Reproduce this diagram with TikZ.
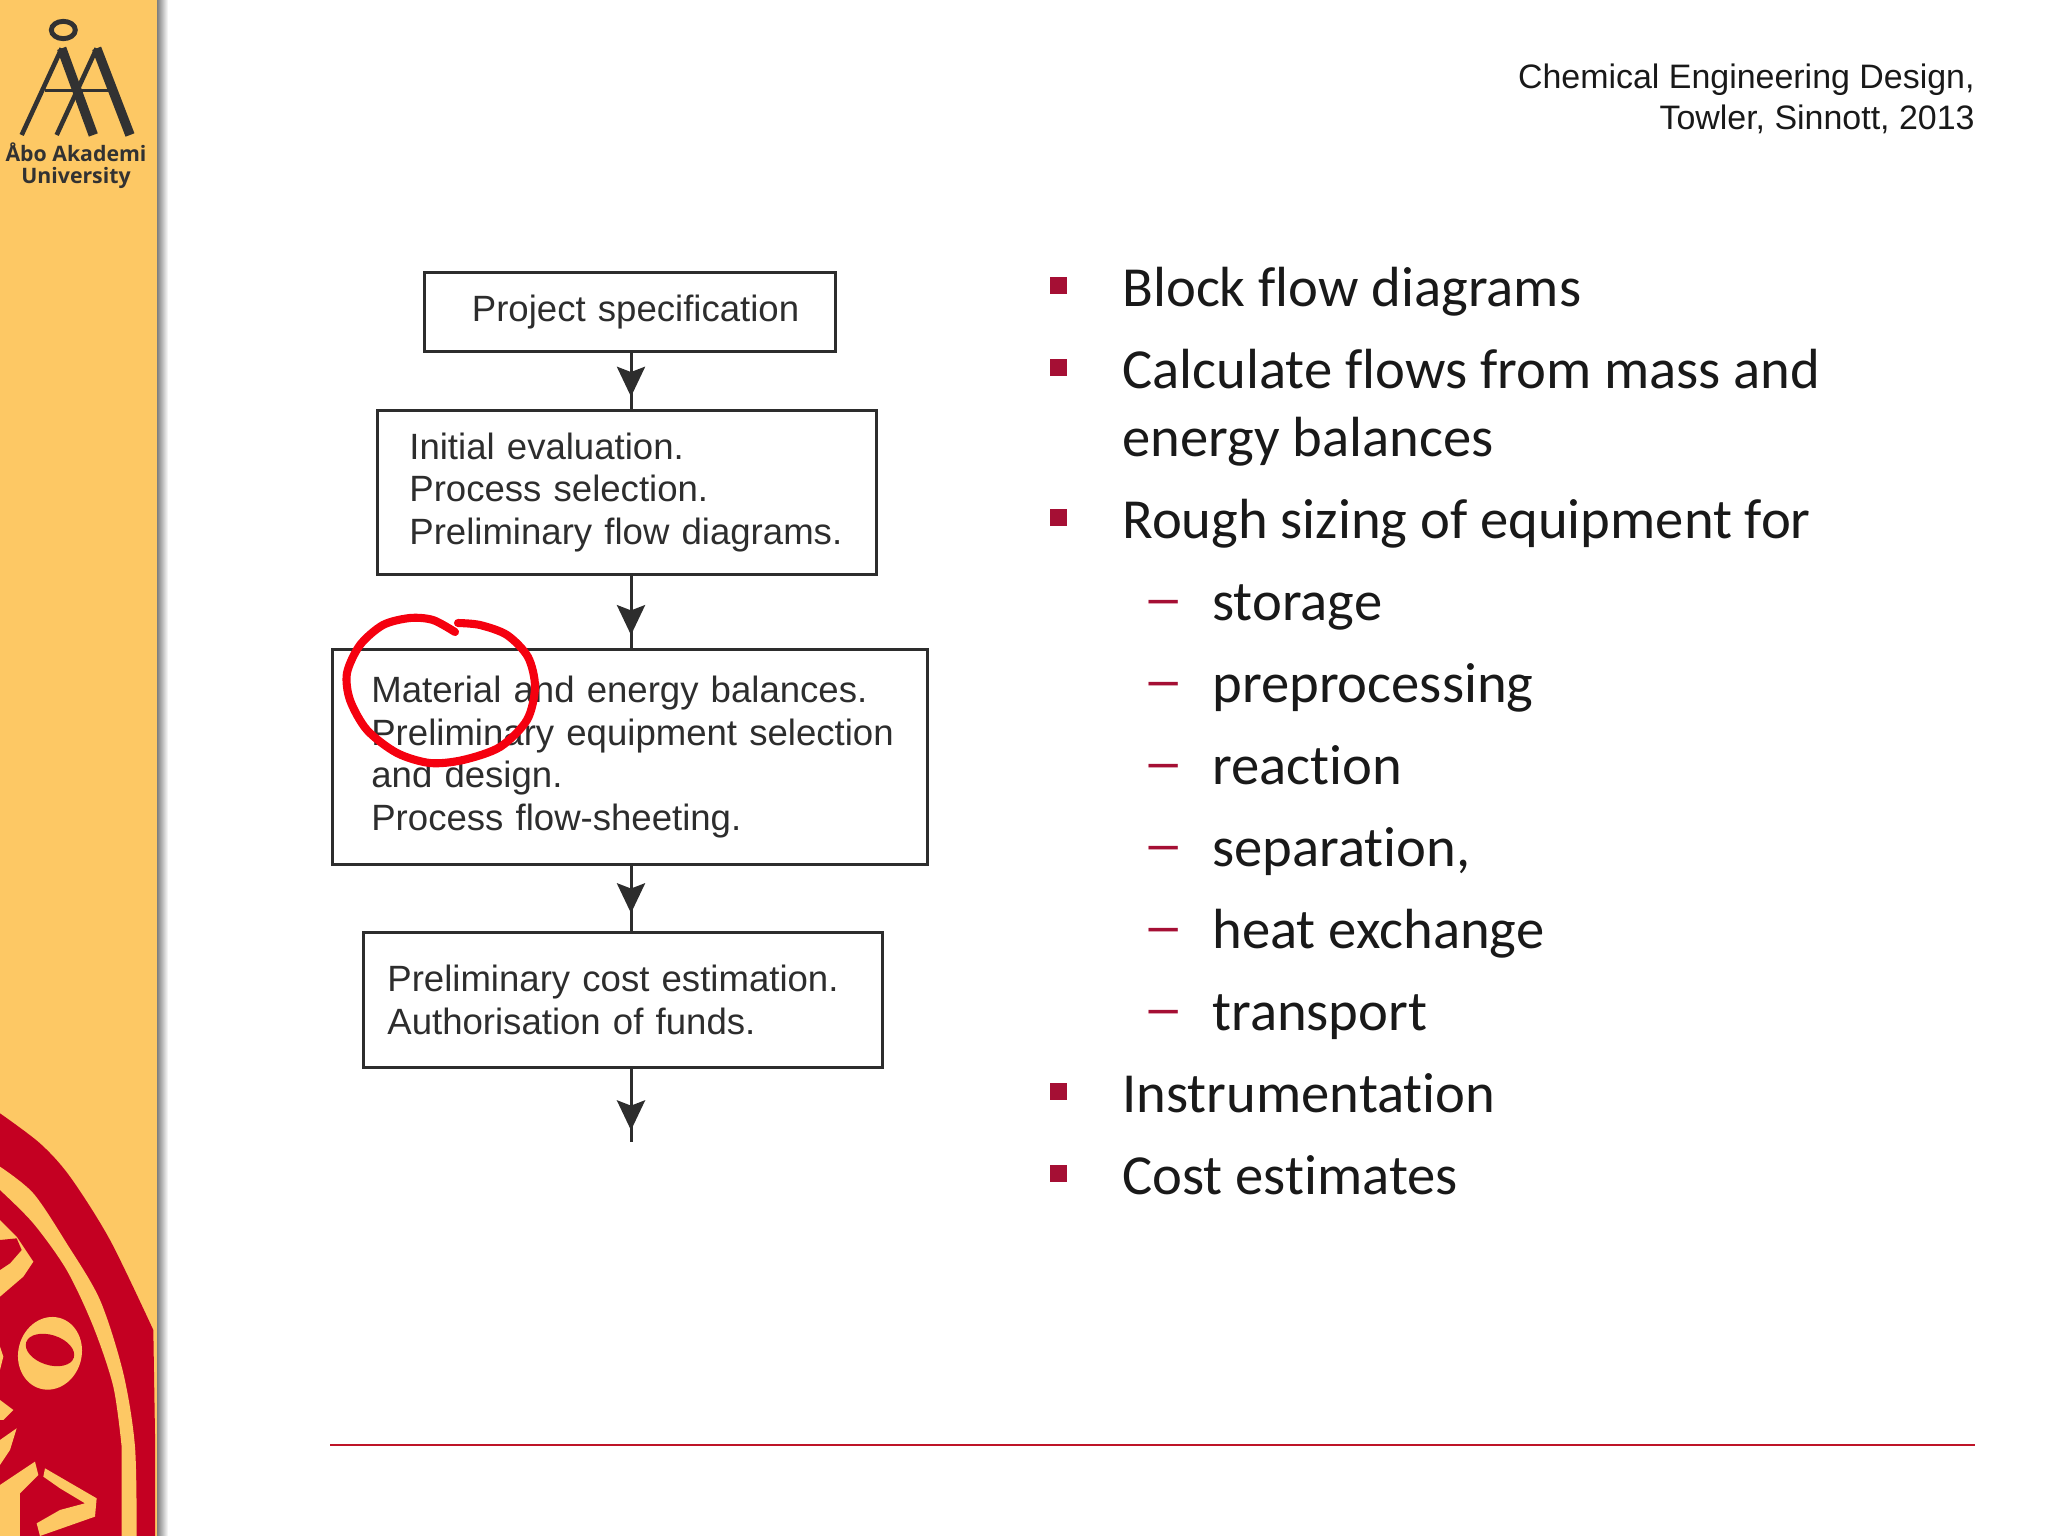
\documentclass[tikz,border=0pt]{standalone}
\usepackage{fontspec}
\setmainfont{Liberation Sans}
\newfontfamily\listfont[Ligatures=CommonOff]{Carlito}
\newfontfamily\logofont{Open Sans}
\usetikzlibrary{arrows.meta,decorations.markings}
\definecolor{barorange}{RGB}{253,200,100}
\definecolor{sealred}{RGB}{196,0,34}
\definecolor{bulletred}{RGB}{165,15,52}
\definecolor{ruled}{RGB}{190,20,40}
\definecolor{circlered}{RGB}{245,0,15}
\definecolor{boxink}{RGB}{45,45,45}
\definecolor{logoink}{RGB}{50,50,50}
\tikzset{
	flowbox/.style n args={3}{draw=boxink, line width=0.85pt, align=left, text=boxink, font=\fontsize{10.4}{12.2}\selectfont,
		text width=#1cm, inner xsep=#2cm, minimum height=#3cm, inner ysep=0pt},
	flowarrow/.style={draw=boxink, line width=0.85pt, postaction={decorate},
		decoration={markings, mark=at position #1 with {\arrow{Stealth[length=8.5pt,width=8pt,inset=1.5pt]}}}},
	listitem/.style={anchor=base west, inner sep=0pt, font=\listfont\fontsize{16.1}{18}\selectfont, text=black!90},
	bulletmark/.style={fill=bulletred, minimum size=0.17cm, inner sep=0pt},
	dashmark/.style={anchor=base west, inner sep=0pt, text=bulletred, font=\listfont\bfseries\fontsize{11.4}{12}\selectfont},
	logotext/.style={inner sep=0pt, anchor=base, text=logoink, font=\logofont\bfseries\fontsize{6.05}{7}\selectfont}
}
\begin{document}
\begin{tikzpicture}[thick, x=0.01cm, y=-0.01cm]
	\useasboundingbox (0,0) rectangle (2048,1536);
	% side bar
	\shade [left color=black!60, right color=white] (155,0) rectangle (168,1536);
	\fill [barorange] (0,0) rectangle (157,1536);
	\begin{scope}
	\clip (0,0) rectangle (155,1536);
	\begin{scope}[shift={(0,1080)}, scale=0.3333]
	\fill [sealred] plot [smooth] coordinates {(0,100) (120,190) (210,290) (330,480) (460,750)} -- (470,1368) -- (0,1368) -- cycle;
	\fill [barorange] plot [smooth] coordinates {(0,260) (100,340) (200,490) (300,660) (370,880) (405,1100) (410,1368)}
		-- (365,1368) -- plot [smooth] coordinates {(365,1100) (340,920) (280,740) (200,570) (100,430) (0,330)} -- cycle;
	\fill [barorange, rotate around={-15:(150,820)}] (150,820) ellipse (95 and 110);
	\fill [sealred, rotate around={-18:(150,810)}] (150,810) ellipse (75 and 45);
	\fill [barorange] (0,420) -- (50,470) -- (100,545) -- (70,590) -- (0,650) -- cycle;
	\fill [sealred] (0,480) -- (50,475) -- (65,510) -- (30,550) -- (0,570) -- cycle;
	\fill [barorange] (0,960) -- (40,990) -- (10,1020) -- (0,1020) -- cycle;
	\fill [barorange] (0,1080) -- (50,1045) -- (30,1110) -- (0,1155) -- cycle;
	\fill [barorange] (0,800) -- (10,830) -- (0,870) -- cycle;
	\fill [barorange] (0,1215) -- (105,1145) -- (115,1185) -- (60,1240) -- (60,1368) -- (0,1368) -- cycle;
	\fill [barorange] (135,1165) -- (290,1255) -- (285,1310) -- (120,1368) -- (110,1330) -- (180,1290) -- (255,1270) -- (180,1225) -- (130,1190) -- cycle;
	\end{scope}
	\end{scope}
	% logo
	\begin{scope}[scale=0.3333, logoink]
	\draw [line width=1.4pt] (190,90) ellipse (36 and 26);
	\draw [line width=1.3pt] (185,145) -- (65,405);
	\draw [line width=2.7pt] (185,145) -- (280,405);
	\draw [line width=1.3pt] (290,145) -- (170,405);
	\draw [line width=2.7pt] (290,145) -- (390,405);
	\draw [line width=1pt] (135,272) -- (340,272);
	\end{scope}
	\node [logotext] (logoA) at (76,161) {Åbo Akademi};
	\node [logotext] (logoB) at (76,183) {University};
	% citation
	\node [anchor=north east, align=right, inner sep=0pt, text=black!90, font=\fontsize{9.65}{11.7}\selectfont] (cite) at (1976,62) {Chemical Engineering Design,\\Towler, Sinnott, 2013};
	% flow chart
	\coordinate (flowx) at (631,0);
	\node [flowbox={3.16}{0.47}{0.79}] (spec) at (630,312) {\mbox{Project specification}};
	\node [flowbox={4.35}{0.32}{1.64}] (initial) at (627,492.5) {Initial evaluation.\\Process selection.\\\mbox{Preliminary flow diagrams.}};
	\node [flowbox={5.17}{0.39}{2.15}] (balance) at (630,757) {Material and energy balances.\\\mbox{Preliminary equipment selection}\\and design.\\Process flow-sheeting.};
	\node [flowbox={4.71}{0.24}{1.34}] (cost) at (623,1000) {\mbox{Preliminary cost estimation.}\\Authorisation of funds.};
	\coordinate (flowend) at (631,1142);
	\draw [flowarrow=0.78] (flowx |- spec.south) -- (flowx |- initial.north);
	\draw [flowarrow=0.82] (flowx |- initial.south) -- (flowx |- balance.north);
	\draw [flowarrow=0.72] (flowx |- balance.south) -- (flowx |- cost.north);
	\draw [flowarrow=0.84] (flowx |- cost.south) -- (flowend);
	% hand drawn ring
	\draw [circlered, line width=2.3pt, line cap=round] plot [smooth] coordinates {(455,632) (433,620) (410,618) (383,625) (360,645) (347,673) (350,700) (367,730) (397,753) (430,763) (463,760) (500,747) (527,720) (535,687) (528,657) (507,635) (480,625) (458,623)};
	% list
	\foreach \y/\txt in {306/Block flow diagrams, 388/Calculate flows from mass and, 538/{Rough sizing of equipment for}, 1112/Instrumentation, 1194/Cost estimates} {
		\node [listitem] at (1121,\y) {\txt};
		\node [bulletmark] at (1058,\y-21) {};
	}
	\node [listitem] at (1121,456) {energy balances};
	\foreach \y/\txt in {620/storage, 702/preprocessing, 784/reaction, 866/{separation,}, 948/heat exchange, 1030/transport} {
		\node [dashmark, yshift=1.8pt] at (1144,\y) {—};
		\node [listitem] at (1211,\y) {\txt};
	}
	% bottom rule
	\coordinate (ruleA) at (330,1445);
	\coordinate (ruleB) at (1975,1445);
	\draw [ruled, line width=0.7pt] (ruleA) -- (ruleB);
\end{tikzpicture}
\end{document}
